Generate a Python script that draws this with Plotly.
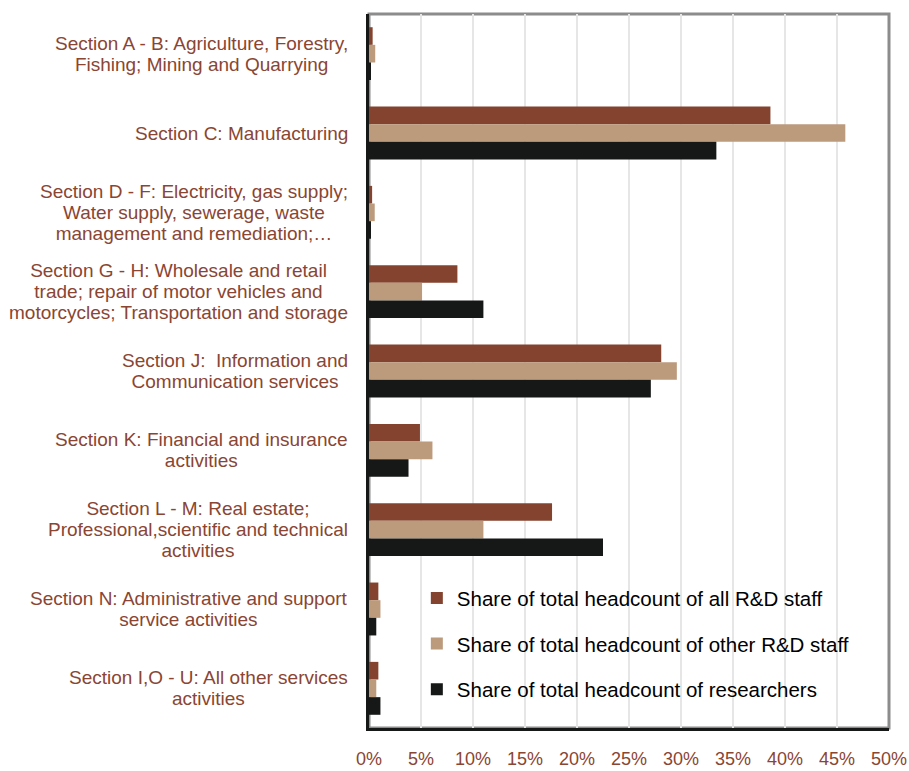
import plotly.graph_objects as go

categories = [
    "Section A - B: Agriculture, Forestry,<br>Fishing; Mining and Quarrying",
    "Section C: Manufacturing",
    "Section D - F: Electricity, gas supply;<br>Water supply, sewerage, waste<br>management and remediation;…",
    "Section G - H: Wholesale and retail<br>trade; repair of motor vehicles and<br>motorcycles; Transportation and storage",
    "Section J:  Information and<br>Communication services",
    "Section K: Financial and insurance<br>activities",
    "Section L - M: Real estate;<br>Professional,scientific and technical<br>activities",
    "Section N: Administrative and support<br>service activities",
    "Section I,O - U: All other services<br>activities",
]
all_rd = [0.35, 38.6, 0.3, 8.5, 28.1, 4.9, 17.6, 0.9, 0.9]
other_rd = [0.6, 45.8, 0.55, 5.1, 29.6, 6.1, 11.0, 1.1, 0.7]
researchers = [0.15, 33.4, 0.15, 11.0, 27.1, 3.8, 22.5, 0.7, 1.1]

series_names = [
    "Share of total headcount of all R&D staff",
    "Share of total headcount of other R&D staff",
    "Share of total headcount of researchers",
]
colors = ["#84432E", "#BC9A7C", "#161817"]
label_color = "#8A4533"
font_family = "Liberation Sans, Arial, sans-serif"

fig = go.Figure()
for name, vals, col in zip(series_names, [all_rd, other_rd, researchers], colors):
    fig.add_trace(go.Bar(
        y=categories, x=vals, name=name, orientation="h",
        marker=dict(color=col, line=dict(width=0)),
        legendgroup=name,
    ))

for cat in categories:
    fig.add_annotation(
        x=0, xref="paper", xanchor="right", xshift=-19,
        y=cat, yref="y", yanchor="middle",
        text='<span style="font-size:19px">' + cat + "</span>",
        showarrow=False, align="center",
        font=dict(family=font_family, size=16.2, color=label_color),
    )

fig.add_shape(type="rect", xref="paper", yref="paper", x0=0, x1=1, y0=0, y1=1,
              line=dict(color="#8C8C8C", width=3), layer="below")

fig.update_layout(
    width=909, height=771,
    margin=dict(l=369, r=20, t=14, b=43, autoexpand=False),
    paper_bgcolor="white", plot_bgcolor="white",
    barmode="group", bargap=0.333, bargroupgap=0,
    font=dict(family=font_family, color="black"),
    showlegend=True,
    legend=dict(
        x=0.092, y=0.21, xanchor="left", yanchor="top",
        bgcolor="rgba(0,0,0,0)", traceorder="grouped", tracegroupgap=16,
        font=dict(family=font_family, size=20.5, color="black"),
        itemwidth=30,
    ),
    xaxis=dict(
        range=[0, 50], dtick=5, ticksuffix="%",
        showgrid=True, gridcolor="#E6E6E6", gridwidth=2,
        showline=True, linecolor="#161817", linewidth=3,
        zeroline=False, ticks="",
        tickfont=dict(family=font_family, size=18, color=label_color),
        ticklabelstandoff=12, fixedrange=True, automargin=False,
    ),
    yaxis=dict(
        autorange="reversed", showticklabels=False,
        showline=True, linecolor="#161817", linewidth=3,
        showgrid=False, ticks="", automargin=False, fixedrange=True,
    ),
)

fig.write_html(
    "out.html",
    config={"displayModeBar": False},
    post_script="document.body.style.margin='0';document.body.style.overflow='hidden';",
)
